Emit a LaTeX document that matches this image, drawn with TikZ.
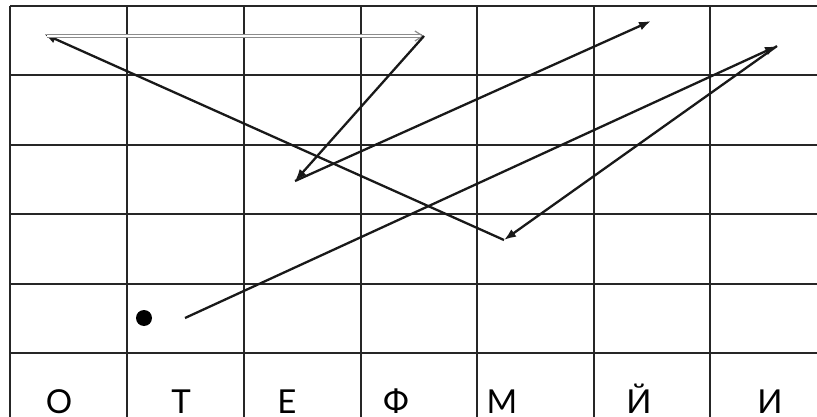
\documentclass[tikz,border=0pt]{standalone}
\usepackage{fontspec}
\setmainfont{Lato}
\usetikzlibrary{arrows.meta}
\tikzset{
  gridline/.style={line width=1.8pt, black!85},
  arr/.style={line width=2.3pt, black!90, -{Latex[length=12pt,width=9pt]}},
  dbl/.style={draw=black!45, line width=1.2pt, double=white, double distance=2pt, -{Straight Barb[length=8pt,width=10pt]}},
  letter/.style={font=\fontsize{33}{33}\selectfont, anchor=base, inner sep=0pt},
  dot/.style={circle, fill=black, minimum size=16pt, inner sep=0pt}
}
\begin{document}
\begin{tikzpicture}[x=1pt,y=-1pt]
\useasboundingbox (0,0) rectangle (817,417);
\clip (0,0) rectangle (817,417);
\fill[white] (0,0) rectangle (817,417);
% grid
\foreach \x in {10,127,244,361,477,594,710} \draw[gridline] (\x,6) -- (\x,420);
\foreach \y in {6,75,145,214,284,353} \draw[gridline] (10,\y) -- (820,\y);
% letters
\node[letter] (l1) at (59,413) {О};
\node[letter] (l2) at (181,413) {Т};
\node[letter] (l3) at (287,413) {Е};
\node[letter] (l4) at (396,413) {Ф};
\node[letter] (l5) at (502,413) {М};
\node[letter] (l6) at (639,413) {Й};
\node[letter] (l7) at (770,413) {И};
% points
\node[dot] (dot) at (144,318) {};
\coordinate (p0) at (185,318);
\coordinate (p1) at (777,46);
\coordinate (p2) at (504,240);
\coordinate (p3) at (44,34);
\coordinate (p3b) at (47,36);
\coordinate (p4) at (424,36);
\coordinate (p5) at (295,181);
\coordinate (p6) at (651,21);
% path
\draw[arr] (p0) -- (p1);
\draw[arr] (p1) -- (p2);
\draw[arr] (p2) -- (p3);
\draw[dbl] (p3b) -- (p4);
\draw[arr] (p4) -- (p5);
\draw[arr] (p5) -- (p6);
\end{tikzpicture}
\end{document}
